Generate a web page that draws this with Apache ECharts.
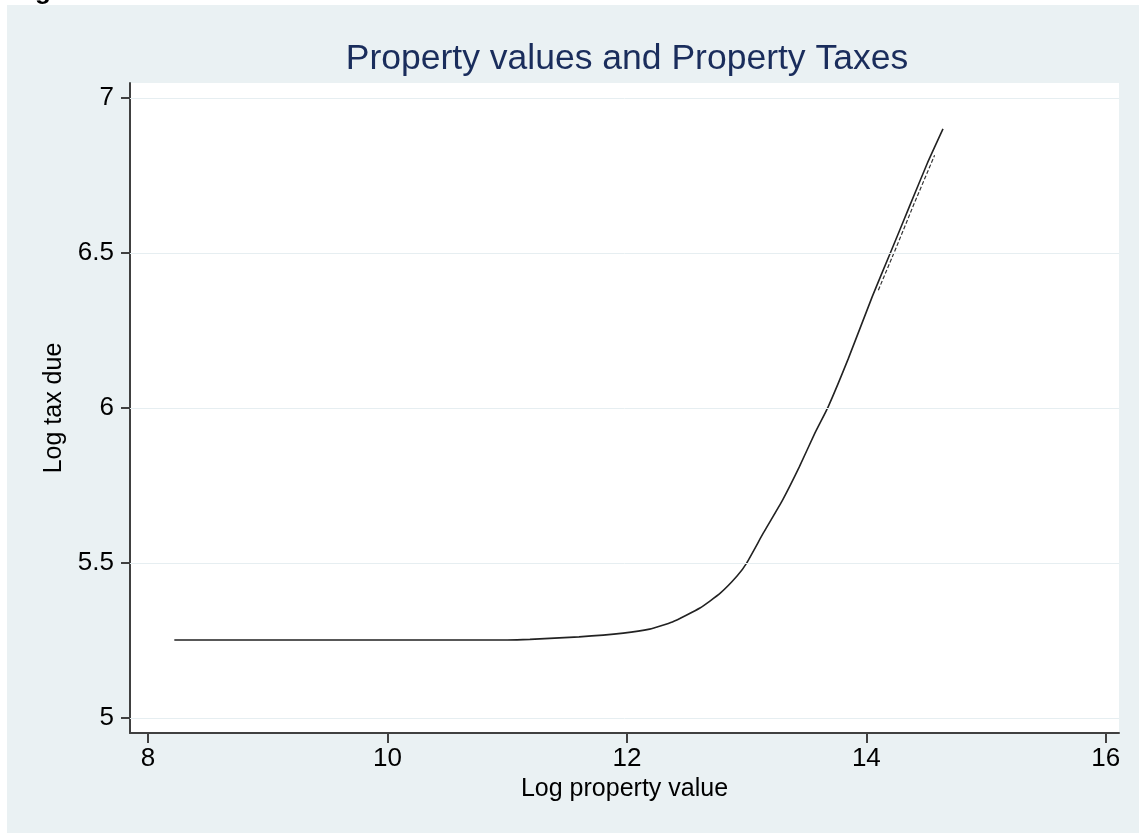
<!DOCTYPE html>
<html>
<head>
<meta charset="UTF-8">
<script type="text/javascript" src="https://cdn.jsdelivr.net/npm/echarts@6/dist/echarts.min.js"></script>
<title>Property values and Property Taxes</title>
<style>
	body { margin: 0; background: #fff; }
	#main { width: 1139px; height: 833px; }
</style>
</head>
<body>
<div id="main"></div>
<script>
	// values
	var logValue = [8.22, 9.0, 10.0, 11.0, 11.19, 11.6, 11.97, 12.19, 12.38, 12.61, 12.78, 12.92, 13.00, 13.14, 13.30, 13.44, 13.57, 13.68, 13.85, 14.05, 14.20, 14.36, 14.51, 14.64];
	var logTax = [5.252, 5.252, 5.252, 5.252, 5.254, 5.262, 5.274, 5.287, 5.310, 5.355, 5.403, 5.458, 5.500, 5.597, 5.703, 5.810, 5.919, 6.003, 6.160, 6.360, 6.500, 6.650, 6.790, 6.900];
	// the doubled strand near the top
	var strandValue = [14.10, 14.25, 14.40, 14.57];
	var strandTax = [6.380, 6.518, 6.660, 6.815];
	var xTicks = [8, 10, 12, 14, 16];
	var yTicks = [5, 5.5, 6, 6.5, 7];

	var FONT = "'Liberation Sans', Arial, sans-serif";

	function pairs(xs, ys) {
		var out = [];
		for (var i = 0; i < xs.length; i++) {
			out.push([xs[i], ys[i]]);
		}
		return out;
	}

	var myChart = echarts.init(document.getElementById('main'), null, { renderer: 'canvas' });

	myChart.setOption({
		animation: false,
		backgroundColor: '#ffffff',
		graphic: [
			{
				type: 'rect',
				z: -10,
				shape: { x: 7, y: 5, width: 1132, height: 828 },
				style: { fill: '#eaf1f3' }
			},
			{
				type: 'text',
				x: 12,
				y: 5,
				style: {
					text: 'Figure',
					font: "bold 26px 'Liberation Sans', Arial, sans-serif",
					fill: '#000',
					verticalAlign: 'bottom'
				}
			}
		],
		title: {
			text: 'Property values and Property Taxes',
			left: 627,
			textAlign: 'center',
			top: 41,
			padding: 0,
			textStyle: {
				fontFamily: FONT,
				fontSize: 35.5,
				fontWeight: 'normal',
				color: '#1a2d5c'
			}
		},
		grid: {
			left: 130,
			right: 20,
			top: 83,
			bottom: 100,
			show: true,
			backgroundColor: '#ffffff',
			borderWidth: 0
		},
		xAxis: {
			type: 'value',
			min: 7.85,
			max: 16.11,
			name: 'Log property value',
			nameLocation: 'middle',
			nameGap: 42,
			nameTextStyle: { fontFamily: FONT, fontSize: 25, color: '#000' },
			axisLine: { show: true, lineStyle: { color: '#404040', width: 2 } },
			axisTick: { show: true, length: 10, lineStyle: { color: '#404040', width: 2 }, customValues: xTicks },
			axisLabel: { fontFamily: FONT, fontSize: 26, color: '#000', margin: 13, customValues: xTicks },
			splitLine: { show: false }
		},
		yAxis: {
			type: 'value',
			min: 4.952,
			max: 7.048,
			name: 'Log tax due',
			nameLocation: 'middle',
			nameGap: 58,
			nameTextStyle: { fontFamily: FONT, fontSize: 25, color: '#000' },
			axisLine: { show: true, lineStyle: { color: '#404040', width: 2 } },
			axisTick: { show: true, length: 9, lineStyle: { color: '#404040', width: 2 }, customValues: yTicks },
			axisLabel: { fontFamily: FONT, fontSize: 26, color: '#000', margin: 16, customValues: yTicks },
			splitLine: { show: false }
		},
		series: [
			{
				// carries the horizontal grid lines, drawn behind the curve
				type: 'line',
				z: 1,
				silent: true,
				showSymbol: false,
				lineStyle: { opacity: 0 },
				data: pairs(logValue, logTax),
				markLine: {
					silent: true,
					symbol: 'none',
					label: { show: false },
					lineStyle: { color: '#e6eef1', width: 1, type: 'solid' },
					data: yTicks.map(function(v) { return { yAxis: v }; })
				}
			},
			{
				type: 'line',
				z: 3,
				showSymbol: false,
				smooth: 0.15,
				lineStyle: { color: '#222222', width: 1.6 },
				data: pairs(logValue, logTax)
			},
			{
				type: 'line',
				z: 3,
				showSymbol: false,
				lineStyle: { color: '#333333', width: 1.2, type: [4, 2] },
				data: pairs(strandValue, strandTax)
			}
		]
	});
</script>
</body>
</html>
